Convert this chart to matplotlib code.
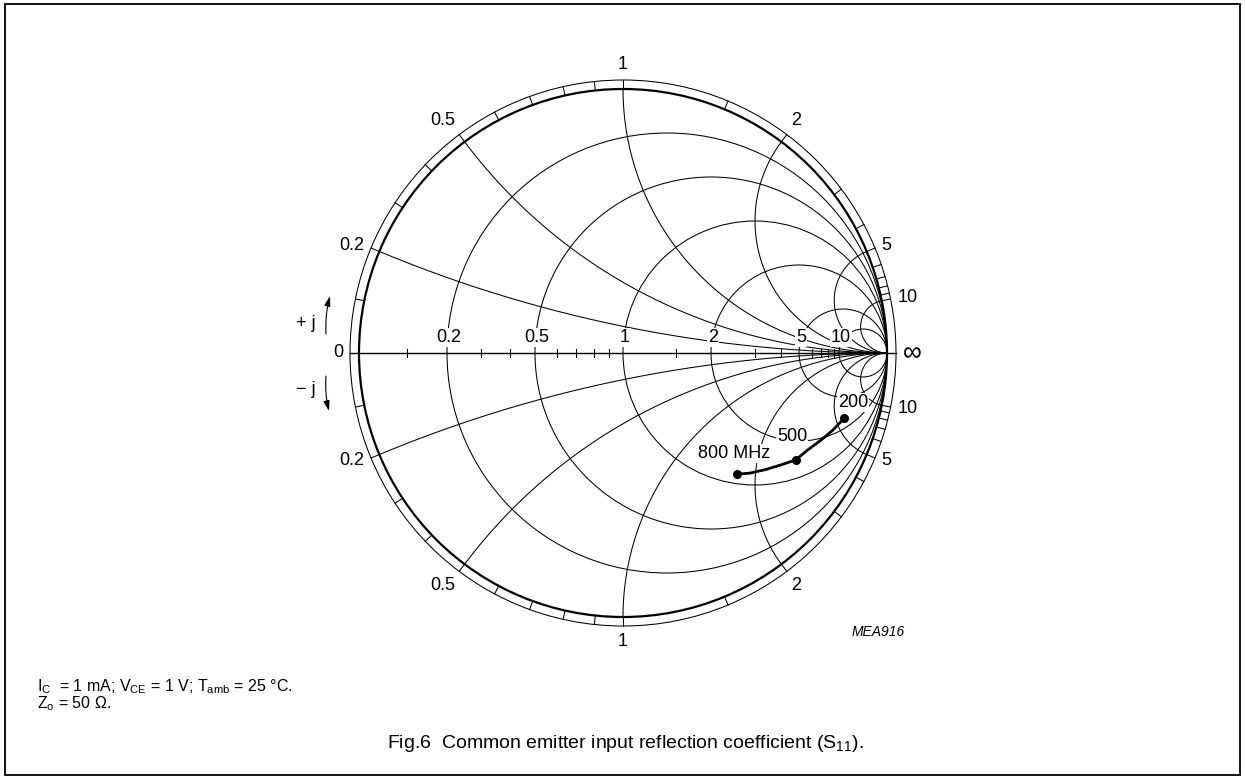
import numpy as np
import matplotlib
matplotlib.use('Agg')
import matplotlib.pyplot as plt
from matplotlib.patches import Circle, Rectangle

plt.rcParams['font.family'] = ['Liberation Sans', 'DejaVu Sans']
plt.rcParams['mathtext.fontset'] = 'custom'
plt.rcParams['mathtext.rm'] = 'Liberation Sans'
plt.rcParams['mathtext.it'] = 'Liberation Sans:italic'

# grid values of the Smith chart
r_grid = [0.2, 0.5, 1, 2, 5, 10]
x_grid = [0.2, 0.5, 1, 2, 5, 10]
r_labels = ['0.2', '0.5', '1', '2', '5', '10']
minor_ticks = [0.1, 0.3, 0.4, 0.6, 0.7, 0.8, 0.9, 1.5, 3, 4, 6, 7, 8, 9]
ring_ticks = [0.1, 0.2, 0.3, 0.4, 0.5, 0.6, 0.7, 0.8, 0.9, 1, 1.5, 2, 3, 4, 5, 6, 7, 8, 9, 10]
x_labels = ['0.2', '0.5', '1', '2', '5', '10']

trace_re = [0.431, 0.481, 0.542, 0.598, 0.654, 0.700, 0.750, 0.795, 0.838]
trace_im = [-0.459, -0.455, -0.441, -0.424, -0.405, -0.367, -0.330, -0.292, -0.247]
freq_labels = ['800 MHz', '500', '200']
freq_re = [0.431, 0.654, 0.838]
freq_im = [-0.459, -0.405, -0.247]

W, H = 1245, 779
CX, CY, R = 623, 353, 264


def px(x, y):
    return (x - CX) / R, (CY - y) / R


fig = plt.figure(figsize=(W / 100, H / 100), dpi=100)
ax = fig.add_axes([0, 0, 1, 1])
ax.set_xlim(-CX / R, (W - CX) / R)
ax.set_ylim(-(H - CY) / R, CY / R)
ax.axis('off')

fig.patches.append(Rectangle((5 / W, 1 - 775 / H), 1235 / W, 771 / H, transform=fig.transFigure,
                             fill=False, lw=1.3, ec='black'))

lw = 0.75
ring = 273 / 264
# unit circle and outer ring
ax.add_patch(Circle((0, 0), 1, fill=False, lw=1.6, ec='black'))
ax.add_patch(Circle((0, 0), ring, fill=False, lw=lw, ec='black'))

# resistance circles
for r in r_grid:
    ax.add_patch(Circle((r / (r + 1), 0), 1 / (r + 1), fill=False, lw=lw, ec='black'))

# reactance arcs
t = np.linspace(0, np.pi / 2 - 1e-4, 600)
for x in x_grid:
    for s in (1, -1):
        z = np.tan(t) + 1j * s * x
        g = (z - 1) / (z + 1)
        ax.plot(g.real, g.imag, color='black', lw=lw)

# real axis
ax.plot([-ring, ring], [0, 0], color='black', lw=1.0)
for r in minor_ticks:
    g = (r - 1) / (r + 1)
    ax.plot([g, g], [-0.016, 0.016], color='black', lw=lw)

# ticks in outer ring
for x in ring_ticks:
    th = np.pi - 2 * np.arctan(x)
    for s in (1, -1):
        ax.plot([np.cos(th), ring * np.cos(th)], [s * np.sin(th), s * ring * np.sin(th)],
                color='black', lw=lw)

# labels on real axis
bb = dict(facecolor='white', edgecolor='none', pad=0.6)
for r, lab in zip(r_grid, r_labels):
    g = (r - 1) / (r + 1)
    ax.text(g + 0.008, 0.058, lab, ha='center', va='center', fontsize=13, bbox=bb)

# labels round the chart
def edge_label(th, lab, size=13):
    c, s = np.cos(th), np.sin(th)
    ha = 'right' if c < -0.2 else ('left' if c > 0.2 else 'center')
    va = 'bottom' if s > 0.5 else ('top' if s < -0.5 else 'center')
    ax.text(1.06 * c, 1.06 * s, lab, ha=ha, va=va, fontsize=size)

for x, lab in zip(x_grid, x_labels):
    th = np.pi - 2 * np.arctan(x)
    edge_label(th, lab)
    edge_label(-th, lab)
edge_label(np.pi, '0')
edge_label(0.0, '∞', size=19)

# +j / -j
ax.text(*px(306, 323), '+ j', ha='center', va='center', fontsize=13)
ax.text(*px(306, 389), '− j', ha='center', va='center', fontsize=13)
ap = dict(arrowstyle='-|>,head_width=0.18,head_length=0.6', color='black', lw=0.8,
          connectionstyle='arc3,rad=-0.08', shrinkA=0, shrinkB=0)
ax.annotate('', xy=px(330, 296), xytext=px(326, 334), arrowprops=ap)
ap2 = dict(ap, connectionstyle='arc3,rad=0.08')
ax.annotate('', xy=px(329, 411), xytext=px(326, 376), arrowprops=ap2)

# measured curve
ax.plot(trace_re, trace_im, color='black', lw=2.0, solid_capstyle='round', zorder=5)
ax.plot(freq_re, freq_im, 'o', color='black', ms=5.5, zorder=6)
offs = [(-0.01, 0.078), (-0.014, 0.087), (0.034, 0.060)]
for fr, fi, lab, (dx, dy) in zip(freq_re, freq_im, freq_labels, offs):
    ax.text(fr + dx, fi + dy, lab, ha='center', va='center', fontsize=13, bbox=bb, zorder=7)

ax.text(*px(878, 632), 'MEA916', ha='center', va='center', fontsize=10, style='italic')

fig.text(37 / W, 1 - 687 / H, r'I$_\mathrm{C}$  = 1 mA; V$_\mathrm{CE}$ = 1 V; T$_\mathrm{amb}$ = 25 °C.',
         ha='left', va='center', fontsize=11.5)
fig.text(37 / W, 1 - 704 / H, r'Z$_\mathrm{o}$ = 50 Ω.', ha='left', va='center', fontsize=11.5)
fig.text(625 / W, 1 - 744 / H, r'Fig.6  Common emitter input reflection coefficient (S$_{11}$).',
         ha='center', va='center', fontsize=14)

fig.savefig('out.png', dpi=100)
